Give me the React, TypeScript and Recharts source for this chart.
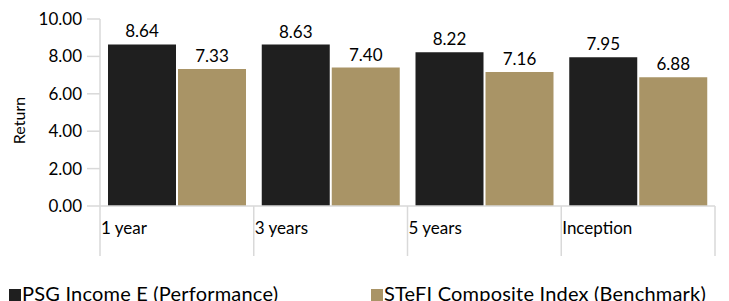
import { BarChart, Bar, XAxis, YAxis, LabelList } from 'recharts';

const categories = ['1 year', '3 years', '5 years', 'Inception'];
const performance = [8.64, 8.63, 8.22, 7.95];
const benchmark = [7.33, 7.4, 7.16, 6.88];
const yTicks = [0, 2, 4, 6, 8, 10];

const seriesNames = ['PSG Income E (Performance)', 'STeFI Composite Index (Benchmark)'];
const colors = ['#1f1f1f', '#a99466'];

const data = categories.map((c, i) => ({ cat: c, perf: performance[i], bench: benchmark[i] }));

// layout
const W = 729;
const H = 301;
const XH = 30;
const M = { top: 19, right: 14, bottom: 65, left: 0 };
const Y_AXIS_W = 100;
const PLOT_W = W - M.left - M.right - Y_AXIS_W;
const PLOT_BOTTOM = H - M.bottom - XH;
const BAND = PLOT_W / categories.length;
const FONT = 'Lato, "Open Sans", sans-serif';
const AXIS = '#d9d9d9';
const FS = 17;

function CatTick(props: any) {
  const { x, index, payload } = props;
  const left = x - BAND / 2;
  return (
    <g>
      <line x1={left} x2={left} y1={PLOT_BOTTOM} y2={PLOT_BOTTOM + 50} stroke={AXIS} strokeWidth={1.5} />
      {index === categories.length - 1 && (
        <line x1={left + BAND} x2={left + BAND} y1={PLOT_BOTTOM} y2={PLOT_BOTTOM + 50} stroke={AXIS} strokeWidth={1.5} />
      )}
      <text x={left + 1} y={PLOT_BOTTOM + 28} fontSize={FS} fontFamily={FONT} fill="#000">
        {payload.value}
      </text>
    </g>
  );
}

function LegendBox() {
  return (
    <div style={{ position: 'absolute', left: 0, top: 281, width: W, height: 24, fontFamily: FONT, fontSize: 20, color: '#000' }}>
      {seriesNames.map((n, i) => (
        <div key={n} style={{ position: 'absolute', left: i === 0 ? 9 : 371, top: 0, display: 'flex', alignItems: 'flex-start', whiteSpace: 'nowrap' }}>
          <span style={{ display: 'inline-block', width: 12, height: 12, background: colors[i], marginTop: 8, marginRight: 1 }} />
          <span style={{ lineHeight: '24px', letterSpacing: 0.2 }}>{n}</span>
        </div>
      ))}
    </div>
  );
}

const fmt = (v: any) => Number(v).toFixed(2);

export default function App() {
  return (
    <div style={{ position: 'absolute', left: 0, top: 0, width: W, height: H, overflow: 'hidden', background: '#fff' }}>
      <BarChart width={W} height={H} data={data} margin={M} barCategoryGap={8} barGap={2}>
        <XAxis
          dataKey="cat"
          height={XH}
          axisLine={{ stroke: AXIS, strokeWidth: 1.5 }}
          tickLine={false}
          tick={<CatTick />}
          interval={0}
        />
        <YAxis
          width={Y_AXIS_W}
          domain={[0, 10]}
          ticks={yTicks}
          interval={0}
          tickFormatter={fmt}
          tick={{ fontSize: FS, fontFamily: FONT, fill: '#000' }}
          tickSize={13}
          tickMargin={5}
          axisLine={{ stroke: AXIS, strokeWidth: 1.5 }}
          tickLine={{ stroke: AXIS, strokeWidth: 1.5 }}
          label={{
            content: ({ viewBox }: any) => {
              const cx = viewBox.x + 25;
              const cy = viewBox.y + viewBox.height / 2 + 8;
              return (
                <text x={cx} y={cy} transform={`rotate(-90 ${cx} ${cy})`} textAnchor="middle" fontSize={16} fontFamily={FONT} fill="#000">
                  Return
                </text>
              );
            },
          }}
        />
        <Bar dataKey="perf" name={seriesNames[0]} fill={colors[0]} isAnimationActive={false}>
          <LabelList dataKey="perf" position="top" offset={7} formatter={fmt} style={{ fontSize: FS, fontFamily: FONT, fill: '#000' }} />
        </Bar>
        <Bar dataKey="bench" name={seriesNames[1]} fill={colors[1]} isAnimationActive={false}>
          <LabelList dataKey="bench" position="top" offset={7} formatter={fmt} style={{ fontSize: FS, fontFamily: FONT, fill: '#000' }} />
        </Bar>
      </BarChart>
      <LegendBox />
    </div>
  );
}
